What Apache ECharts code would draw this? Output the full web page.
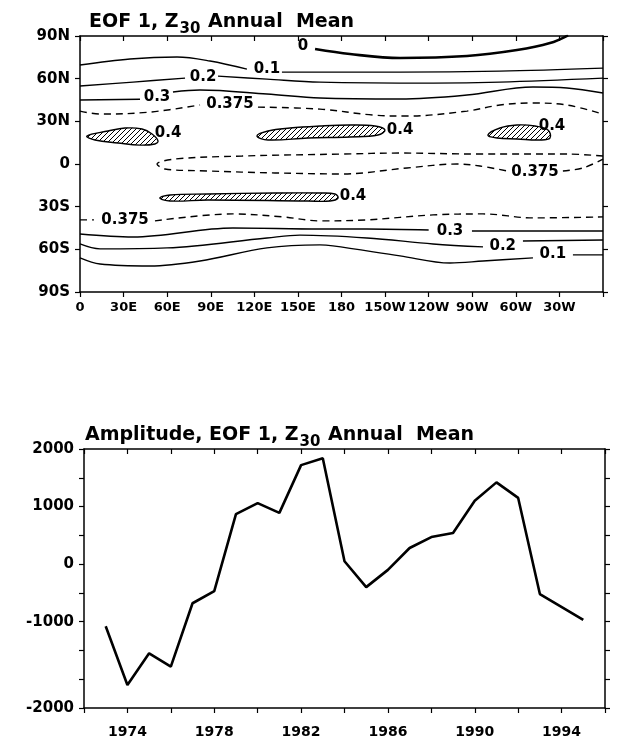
<!DOCTYPE html>
<html>
<head>
<meta charset="utf-8">
<script src="https://cdn.jsdelivr.net/npm/echarts@6/dist/echarts.min.js"></script>
<style>
  html, body { margin: 0; padding: 0; background: #fff; }
  #container { width: 627px; height: 742px; }
</style>
</head>
<body>
<div id="container"></div>
<script>
// ---- top panel: EOF 1 pattern, [lon, lat] points ----
var lonTickLabels = ['0', '30E', '60E', '90E', '120E', '150E', '180', '150W', '120W', '90W', '60W', '30W', ''];
var latTickLabels = ['90S', '60S', '30S', '0', '30N', '60N', '90N'];

// each contour is a list of segments, broken where the value label sits
var contour0 = [
    [[161.8, 80.8], [185.8, 77.3], [220.3, 74.5], [266.4, 75.9], [300.8, 80.1], [323.5, 85], [336, 90.5]]
];
var contour01N = [
    [[0, 69.6], [34.4, 73.8], [66.8, 75.2], [89.5, 72.4], [114.9, 66.7]],
    [[139, 64.6], [220.3, 64.6], [289.1, 65.3], [360, 67.4]]
];
var contour02N = [
    [[0, 54.8], [36.5, 57.6], [72.3, 60.4]],
    [[95, 61.8], [128.7, 59.7], [165.2, 57.6], [243, 56.9], [289.1, 57.6], [360, 60.4]]
];
var contour03N = [
    [[0, 45], [41.3, 45.5]],
    [[64, 50.6], [82.6, 52], [128.7, 49.2], [165.2, 46.4], [220.3, 45.7], [266.4, 48.5], [311.8, 54.1], [335.2, 53.4], [360, 49.9]]
];
var contour0375N = [
    [[0, 37.2], [13.8, 35.1], [48.2, 36.5], [82.6, 41.5]],
    [[122.5, 40], [165.2, 38.6], [201.7, 34.4], [225.1, 33.7], [266.4, 37.2], [289.1, 41.5], [311.8, 42.9], [335.2, 41.5], [360, 35.1]]
];
var contour0375Eq = [
    [[360, 5.6], [335.2, 7], [275.3, 7], [220.3, 7.7], [180.3, 7], [111.5, 5.6], [65.4, 3.5], [53, 0],
     [58.5, -3.5], [88.1, -4.9], [134.2, -6.3], [180.3, -7], [225.1, -2.8], [259.5, 0], [275.3, -1.4], [293.9, -4.9]],
    [[332.4, -4.9], [346.2, -2.8], [360, 3.5]]
];
var contour0375S = [
    [[0, -39.3], [9.6, -39.3]],
    [[51.6, -40], [105.3, -35.1], [139.7, -37.2], [165.2, -40], [197.5, -39.3], [243, -35.8], [277.4, -35.1], [311.8, -37.9], [360, -37.2]]
];
var contour03S = [
    [[0, -49.2], [36.5, -51.3], [105.3, -45], [165.2, -45.7], [197.5, -45.7], [240, -46.4]],
    [[269.8, -47.1], [360, -47.1]]
];
var contour02S = [
    [[0, -56.2], [13.8, -59.7], [59.9, -59], [128.7, -52], [151.4, -50], [197.5, -52], [243, -56.2], [277.4, -58.3]],
    [[304.9, -54.1], [360, -53.4]]
];
var contour01S = [
    [[0, -66], [13.8, -70.3], [48.2, -71.7], [82.6, -68.2], [128.7, -59], [165.2, -56.9], [174.1, -57.6],
     [220.3, -64.6], [254.7, -69.6], [277.4, -68.2], [311.8, -66]],
    [[339.3, -63.9], [360, -63.9]]
];
// closed 0.4 regions (hatched)
var hatched04 = [
    [[4.8, 19.7], [19.3, 23.2], [31, 25.3], [42.7, 24.6], [49.6, 21.1], [53.7, 16.2], [51.6, 14.1], [41.3, 13.3], [26.2, 14.8], [10.3, 16.9]],
    [[121.8, 19.7], [129.4, 23.2], [144.5, 25.3], [165.2, 26.7], [185.8, 27.4], [203, 26.7], [209.9, 23.9], [205.1, 20.4], [185.8, 19], [156.9, 18.3], [129.4, 16.9]],
    [[280.8, 20.4], [289.1, 25.3], [300.8, 27.4], [313.2, 26.7], [322.1, 23.9], [323.5, 18.3], [316.6, 16.9], [300.8, 17.6], [287, 18.3]],
    [[55, -23.9], [61.9, -21.8], [88.1, -21.1], [134.2, -20.4], [165.2, -20.4], [175.5, -21.1], [177.6, -23.9], [172.1, -26], [156.9, -26], [88.1, -25.3], [61.9, -26]]
];
var contourLabels = [
    [153.5, 82.9, '0'], [128.7, 66.7, '0.1'], [84.7, 61.1, '0.2'], [53, 47, '0.3'], [103.2, 42.2, '0.375'],
    [60.6, 21.8, '0.4'], [220.3, 23.9, '0.4'], [324.9, 26.7, '0.4'], [187.9, -22.5, '0.4'],
    [313.2, -5.6, '0.375'], [31, -39.3, '0.375'], [254.7, -47.1, '0.3'], [291, -57.6, '0.2'], [325.5, -63.2, '0.1']
];

// ---- bottom panel: amplitude time series ----
var years = [1973, 1974, 1975, 1976, 1977, 1978, 1979, 1980, 1981, 1982, 1983, 1984, 1985, 1986, 1987, 1988, 1989, 1990, 1991, 1992, 1993, 1995];
var amplitude = [-1080, -2100, -1550, -1780, -680, -470, 870, 1060, 890, 1720, 1840, 50, -400, -100, 280, 470, 540, 1100, 1420, 1150, -520, -970];
// the original axis runs down to -2500 but its bottom tick carries the text "-2000"
var ampTickValues = [2000, 1000, 0, -1000, -2500];
var ampTickLabels = ['2000', '1000', '0', '-1000', '-2000'];

var FONT = 'DejaVu Sans';

function hatchPattern() {
    var c = document.createElement('canvas');
    c.width = 5;
    c.height = 5;
    var ctx = c.getContext('2d');
    ctx.strokeStyle = '#000';
    ctx.lineWidth = 1;
    ctx.beginPath();
    ctx.moveTo(0, 5); ctx.lineTo(5, 0);
    ctx.moveTo(-1, 1); ctx.lineTo(1, -1);
    ctx.moveTo(4, 6); ctx.lineTo(6, 4);
    ctx.stroke();
    return { image: c, repeat: 'repeat' };
}

function frameAxis(extra) {
    var base = {
        axisLine: { show: true, onZero: false, lineStyle: { color: '#000', width: 1.5 } },
        axisTick: { show: true, length: 5, lineStyle: { color: '#000', width: 1.2 } },
        splitLine: { show: false },
        axisLabel: { show: false }
    };
    return Object.assign(base, extra);
}

function contourSeries(segments, dashed, width) {
    return segments.map(function (seg) {
        return {
            type: 'line',
            xAxisIndex: 0,
            yAxisIndex: 0,
            data: seg,
            smooth: 0.35,
            showSymbol: false,
            silent: true,
            lineStyle: { color: '#000', width: width || 1.4, type: dashed ? [7, 5] : 'solid' }
        };
    });
}

var myChart = echarts.init(document.getElementById('container'));
var hatch = hatchPattern();

var series = [].concat(
    contourSeries(contour0, false, 2.6),
    contourSeries(contour01N), contourSeries(contour02N), contourSeries(contour03N),
    contourSeries(contour0375N, true), contourSeries(contour0375Eq, true), contourSeries(contour0375S, true),
    contourSeries(contour03S), contourSeries(contour02S), contourSeries(contour01S)
);

series.push({
    type: 'custom',
    xAxisIndex: 0,
    yAxisIndex: 0,
    silent: true,
    data: hatched04.map(function (b, i) { return [i, 0]; }),
    renderItem: function (params, api) {
        var pts = hatched04[params.dataIndex].map(function (p) { return api.coord(p); });
        return {
            type: 'polygon',
            shape: { points: pts, smooth: 0.4 },
            style: { fill: hatch, stroke: '#000', lineWidth: 1.4 }
        };
    }
});

// contour value labels; scatter fades items to 0.8 by default, so force opacity 1
series.push({
    type: 'scatter',
    xAxisIndex: 0,
    yAxisIndex: 0,
    silent: true,
    symbolSize: 1,
    itemStyle: { color: 'transparent', opacity: 1 },
    data: contourLabels,
    label: {
        show: true,
        position: 'inside',
        formatter: function (p) { return p.value[2]; },
        color: '#000',
        opacity: 1,
        fontFamily: FONT,
        fontWeight: 'bold',
        fontSize: 15
    },
    z: 5
});

series.push({
    type: 'line',
    xAxisIndex: 2,
    yAxisIndex: 2,
    data: years.map(function (y, i) { return [y, amplitude[i]]; }),
    showSymbol: false,
    silent: true,
    lineStyle: { color: '#000', width: 2.6 }
});

var titleRich = {
    t: { fontFamily: FONT, fontWeight: 'bold', fontSize: 19, color: '#000', verticalAlign: 'top', lineHeight: 22 },
    s: { fontFamily: FONT, fontWeight: 'bold', fontSize: 15, color: '#000', verticalAlign: 'top', padding: [9, 1, 0, 1] }
};

var option = {
    animation: false,
    backgroundColor: '#fff',
    title: [
        { left: 84, top: 8, text: '{t|EOF 1, Z}{s|30}{t| Annual  Mean}', textStyle: { rich: titleRich } },
        { left: 80, top: 421, text: '{t|Amplitude, EOF 1, Z}{s|30}{t| Annual  Mean}', textStyle: { rich: titleRich } }
    ],
    grid: [
        { left: 80, top: 36, width: 523, height: 256 },
        { left: 84, top: 449, width: 521, height: 259 }
    ],
    xAxis: [
        frameAxis({
            gridIndex: 0, type: 'value', position: 'bottom', min: 0, max: 360, interval: 30,
            axisLabel: {
                show: true, margin: 9, color: '#000', fontFamily: FONT, fontWeight: 'bold', fontSize: 13,
                formatter: function (v) { return lonTickLabels[Math.round(v / 30)]; }
            }
        }),
        frameAxis({ gridIndex: 0, type: 'value', position: 'top', min: 0, max: 360, interval: 30,
            axisTick: { show: true, inside: true, length: 5, lineStyle: { color: '#000', width: 1.2 } } }),
        frameAxis({
            gridIndex: 1, type: 'value', position: 'bottom', min: 1972, max: 1996, interval: 2,
            axisLabel: {
                show: true, margin: 17, color: '#000', fontFamily: FONT, fontWeight: 'bold', fontSize: 14,
                formatter: function (v) { return (v - 1974) % 4 === 0 ? String(v) : ''; }
            }
        }),
        frameAxis({ gridIndex: 1, type: 'value', position: 'top', min: 1972, max: 1996, interval: 2,
            axisTick: { show: true, inside: true, length: 5, lineStyle: { color: '#000', width: 1.2 } } })
    ],
    yAxis: [
        frameAxis({
            gridIndex: 0, type: 'value', position: 'left', min: -90, max: 90, interval: 30,
            axisLabel: {
                show: true, margin: 10, color: '#000', fontFamily: FONT, fontWeight: 'bold', fontSize: 15,
                formatter: function (v) { return latTickLabels[Math.round((v + 90) / 30)]; }
            }
        }),
        frameAxis({ gridIndex: 0, type: 'value', position: 'right', min: -90, max: 90, interval: 30 }),
        frameAxis({
            gridIndex: 1, type: 'value', position: 'left', min: -2500, max: 2000, interval: 500,
            axisLabel: {
                show: true, margin: 10, color: '#000', fontFamily: FONT, fontWeight: 'bold', fontSize: 15,
                formatter: function (v) {
                    var i = ampTickValues.indexOf(v);
                    return i < 0 ? '' : ampTickLabels[i];
                }
            }
        }),
        frameAxis({ gridIndex: 1, type: 'value', position: 'right', min: -2500, max: 2000, interval: 500 })
    ],
    series: series
};

myChart.setOption(option);
</script>
</body>
</html>
